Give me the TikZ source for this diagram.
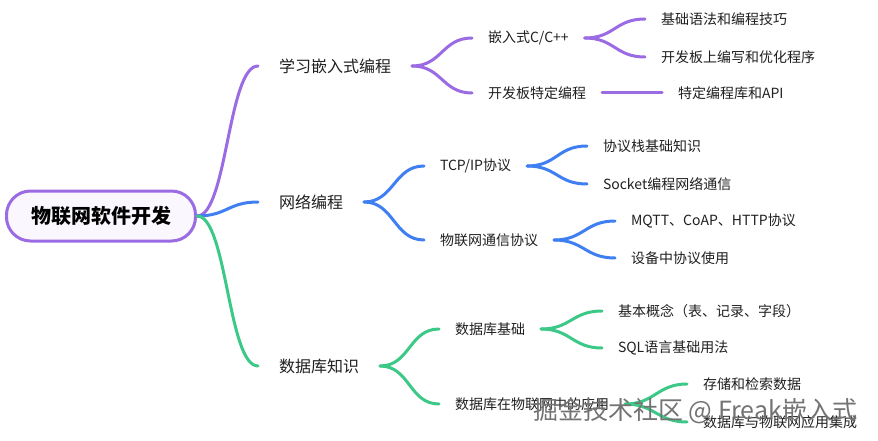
\documentclass[tikz,border=0pt]{standalone}
\usepackage{fontspec}
\setmainfont{Noto Sans CJK SC}
\usepackage{tikz}
\definecolor{mmpurple}{HTML}{9B6BE3}
\definecolor{mmblue}{HTML}{3F7FF2}
\definecolor{mmgreen}{HTML}{3CC987}
\definecolor{mmroot}{HTML}{FBF7FE}
\definecolor{mmtext}{HTML}{1F1F1F}

\begin{document}
\begin{tikzpicture}[x=1pt,y=-1pt,
    topic/.style={anchor=west, inner xsep=21pt, inner ysep=2pt, outer sep=0pt, text=mmtext, font=\fontsize{16}{18}\selectfont},
    leaf/.style={anchor=west, inner xsep=16pt, inner ysep=2pt, outer sep=0pt, text=mmtext, font=\fontsize{14}{16}\selectfont},
    branch/.style={line width=3pt, line cap=round}]
      \useasboundingbox (0,0) rectangle (878,441);

      % 物联网软件开发
      \node[draw=mmpurple, line width=3pt, fill=mmroot, rounded corners=24pt,
            minimum width=189pt, minimum height=50pt,
            font=\fontsize{20}{24}\selectfont\bfseries] (root) at (101,216) {物联网软件开发};

      % 学习嵌入式编程
      \node[topic]      (learn) at (258,66) {学习嵌入式编程};
      \node[leaf]       (learn-c) at (472,38) {嵌入式C/C++};
      \node[leaf]       (learn-board) at (472,93) {开发板特定编程};
      \node[leaf]       (c-syntax) at (645,19) {基础语法和编程技巧};
      \node[leaf]       (c-opt) at (645,57) {开发板上编写和优化程序};
      \node[leaf]       (board-api) at (662,93) {特定编程库和API};
      \draw[branch, mmpurple] (root.east) .. controls +(30,0) and +(-30,0) .. (learn.west);
      \draw[branch, mmpurple] (learn.east) .. controls +(30,0) and +(-30,0) .. (learn-c.west);
      \draw[branch, mmpurple] (learn.east) .. controls +(30,0) and +(-30,0) .. (learn-board.west);
      \draw[branch, mmpurple] (learn-c.east) .. controls +(30,0) and +(-30,0) .. (c-syntax.west);
      \draw[branch, mmpurple] (learn-c.east) .. controls +(30,0) and +(-30,0) .. (c-opt.west);
      \draw[branch, mmpurple] (learn-board.east) -- (board-api.west);

      % 网络编程
      \node[topic]      (net) at (258,202) {网络编程};
      \node[leaf]       (net-tcp) at (424,166) {TCP/IP协议};
      \node[leaf]       (net-iot) at (424,240) {物联网通信协议};
      \node[leaf]       (tcp-stack) at (587,146) {协议栈基础知识};
      \node[leaf]       (tcp-socket) at (587,184) {Socket编程网络通信};
      \node[leaf]       (iot-proto) at (615,221) {MQTT、CoAP、HTTP协议};
      \node[leaf]       (iot-use) at (615,258) {设备中协议使用};
      \draw[branch, mmblue] (root.east) .. controls +(30,0) and +(-30,0) .. (net.west);
      \draw[branch, mmblue] (net.east) .. controls +(30,0) and +(-30,0) .. (net-tcp.west);
      \draw[branch, mmblue] (net.east) .. controls +(30,0) and +(-30,0) .. (net-iot.west);
      \draw[branch, mmblue] (net-tcp.east) .. controls +(30,0) and +(-30,0) .. (tcp-stack.west);
      \draw[branch, mmblue] (net-tcp.east) .. controls +(30,0) and +(-30,0) .. (tcp-socket.west);
      \draw[branch, mmblue] (net-iot.east) .. controls +(30,0) and +(-30,0) .. (iot-proto.west);
      \draw[branch, mmblue] (net-iot.east) .. controls +(30,0) and +(-30,0) .. (iot-use.west);

      % 数据库知识
      \node[topic]      (db) at (258,366) {数据库知识};
      \node[leaf]       (db-base) at (439,329) {数据库基础};
      \node[leaf]       (db-iot) at (439,404) {数据库在物联网中的应用};
      \node[leaf]       (base-concept) at (602,311) {基本概念（表、记录、字段）};
      \node[leaf]       (base-sql) at (602,348) {SQL语言基础用法};
      \node[leaf]       (iot-store) at (687,384) {存储和检索数据};
      \node[leaf]       (iot-integ) at (687,422) {数据库与物联网应用集成};
      \draw[branch, mmgreen] (root.east) .. controls +(30,0) and +(-30,0) .. (db.west);
      \draw[branch, mmgreen] (db.east) .. controls +(30,0) and +(-30,0) .. (db-base.west);
      \draw[branch, mmgreen] (db.east) .. controls +(30,0) and +(-30,0) .. (db-iot.west);
      \draw[branch, mmgreen] (db-base.east) .. controls +(30,0) and +(-30,0) .. (base-concept.west);
      \draw[branch, mmgreen] (db-base.east) .. controls +(30,0) and +(-30,0) .. (base-sql.west);
      \draw[branch, mmgreen] (db-iot.east) .. controls +(30,0) and +(-30,0) .. (iot-store.west);
      \draw[branch, mmgreen] (db-iot.east) .. controls +(30,0) and +(-30,0) .. (iot-integ.west);

      % watermark
      \node[anchor=west, inner sep=0pt, text=black!55, font=\fontsize{25}{28}\selectfont] (mark) at (533,411) {掘金技术社区 @ Freak嵌入式};
    \end{tikzpicture}
\end{document}
